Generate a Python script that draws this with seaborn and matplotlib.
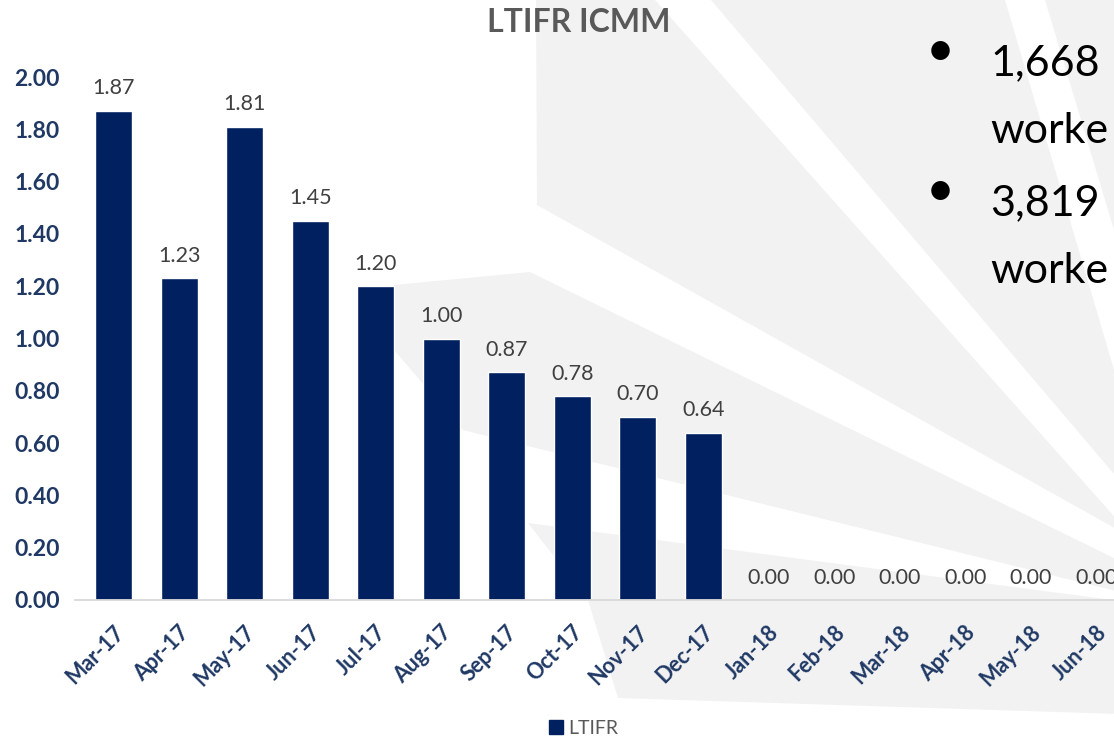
import matplotlib.pyplot as plt
import matplotlib.transforms as mtransforms
import seaborn as sns
from matplotlib.patches import Polygon, Patch

# chart data
months = ["Mar-17", "Apr-17", "May-17", "Jun-17", "Jul-17", "Aug-17", "Sep-17", "Oct-17",
          "Nov-17", "Dec-17", "Jan-18", "Feb-18", "Mar-18", "Apr-18", "May-18", "Jun-18"]
ltifr = [1.87, 1.23, 1.81, 1.45, 1.20, 1.00, 0.87, 0.78, 0.70, 0.64, 0.00, 0.00, 0.00, 0.00, 0.00, 0.00]
y_ticks = [0.0, 0.2, 0.4, 0.6, 0.8, 1.0, 1.2, 1.4, 1.6, 1.8, 2.0]
series_name = "LTIFR"
title = "LTIFR ICMM"
slide_lines = ["1,668", "worke", "3,819", "worke"]

NAVY = "#002060"
TICK_BLUE = "#1f3864"
GRAY_TXT = "#595959"
RAY_GRAY = "#f2f2f2"
W, H = 1114, 738

# slide background rays (pixel coords, y down)
rays = [
    [(1045, 0), (1120, 0), (1120, 250)],
    [(711, 0), (1005, 0), (1120, 390), (1120, 481)],
    [(536, 0), (655, 0), (1120, 523), (1120, 531), (537, 205)],
    [(394, 285), (530, 272), (1120, 561), (1120, 592), (463, 430), (394, 350)],
    [(528, 523), (1120, 601), (1120, 714), (618, 698), (588, 600)],
]


def to_fig(pts):
    return [(x / W, 1 - y / H) for x, y in pts]


sns.set_theme(style="white")
plt.rcParams["font.family"] = ["Lato", "DejaVu Sans"]

fig = plt.figure(figsize=(W / 100, H / 100), dpi=100)
for r in rays:
    fig.add_artist(Polygon(to_fig(r), closed=True, transform=fig.transFigure,
                           facecolor=RAY_GRAY, edgecolor="none", zorder=-5))

ax = fig.add_axes([75 / W, 138 / H, 1054 / W, 523 / H])
ax.set_facecolor("none")
sns.barplot(x=months, y=ltifr, color=NAVY, saturation=1, width=0.565, ax=ax)

ax.set_xlim(-0.59, 15.5)
ax.set_ylim(0, 2.0)
ax.set_yticks(y_ticks)
ax.set_yticklabels([f"{v:.2f}" for v in y_ticks], fontsize=16.5, fontweight="bold", color=TICK_BLUE)
ax.tick_params(axis="y", length=0, pad=11)
ax.tick_params(axis="x", length=0, pad=21)
shift = mtransforms.ScaledTranslation(0.07, 0, fig.dpi_scale_trans)
for lbl in ax.get_xticklabels():
    lbl.set_rotation(45)
    lbl.set_ha("right")
    lbl.set_va("center")
    lbl.set_rotation_mode("anchor")
    lbl.set_fontsize(15.5)
    lbl.set_fontweight("bold")
    lbl.set_color(TICK_BLUE)
    lbl.set_transform(lbl.get_transform() + shift)

for s in ["left", "top", "right"]:
    ax.spines[s].set_visible(False)
ax.spines["bottom"].set_color("#d9d9d9")
ax.spines["bottom"].set_linewidth(1.3)

for cont in ax.containers:
    ax.bar_label(cont, labels=[f"{v:.2f}" for v in ltifr], padding=9,
                 fontsize=15.5, color="#404040")

fig.text(579 / W, 1 - 22 / H, title, ha="center", va="center",
         fontsize=23, fontweight="bold", color=GRAY_TXT)

fig.legend(handles=[Patch(color=NAVY, label=series_name)], loc="center",
           bbox_to_anchor=(584 / W, 1 - 728 / H), frameon=False,
           handlelength=0.7, handleheight=0.7, handletextpad=0.3,
           fontsize=14, labelcolor=GRAY_TXT)

# text from the slide that overlaps the chart
bullet_y = [75, 215]
for by in bullet_y:
    fig.text(940 / W, 1 - (by - 23) / H, "\u2022", ha="center", va="center",
             fontsize=36, color="black")
line_y = [75, 143, 215, 283]
for txt, ly in zip(slide_lines, line_y):
    fig.text(990 / W, 1 - ly / H, txt, ha="left", va="baseline",
             fontsize=31, color="black")

fig.savefig("out.png", dpi=100)
